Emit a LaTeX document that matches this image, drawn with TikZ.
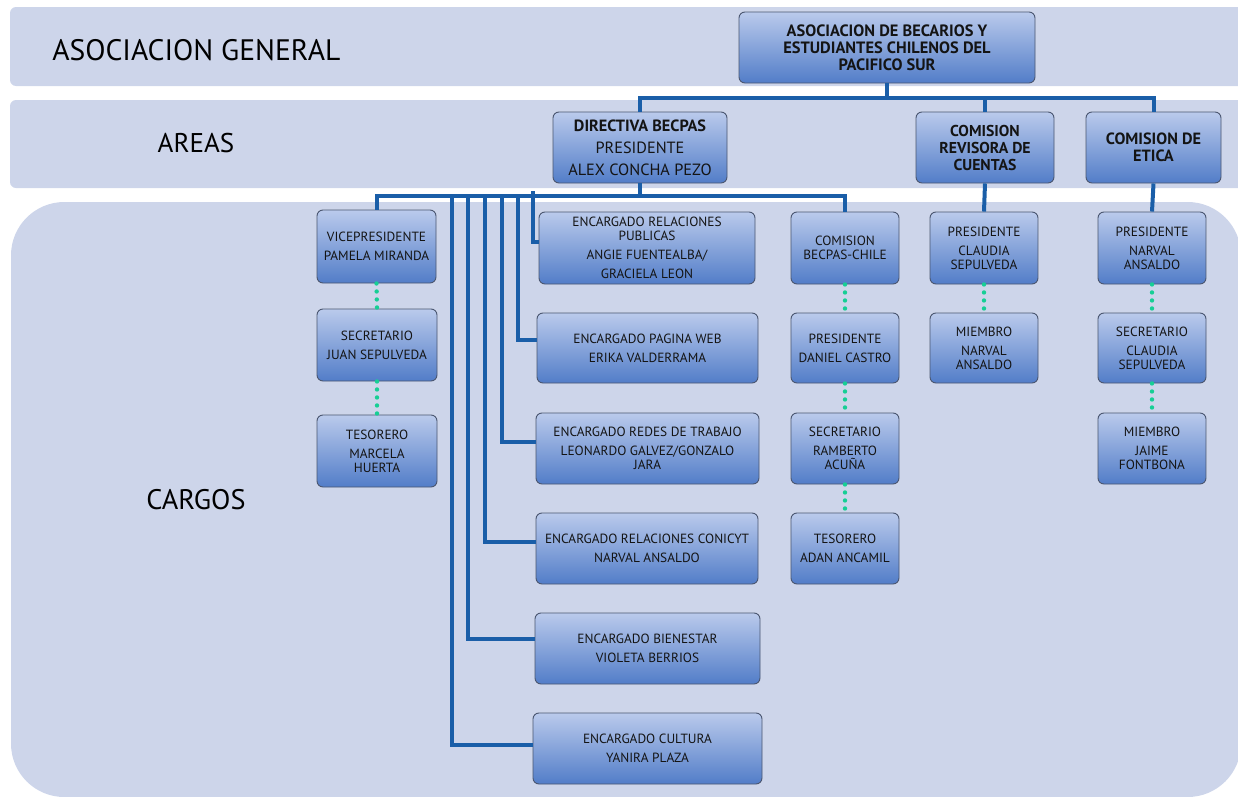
\documentclass[tikz,border=0pt]{standalone}
\usepackage{fontspec}
\setmainfont{PT Sans}
\definecolor{band}{HTML}{CDD5EA}
\definecolor{btop}{HTML}{BACAEC}
\definecolor{bbot}{HTML}{527DC8}
\definecolor{bord}{HTML}{4A5670}
\definecolor{conn}{HTML}{1A5EA8}
\definecolor{dotc}{HTML}{16CF95}
\begin{document}
\begin{tikzpicture}[x=0.75pt,y=-0.75pt,
  box/.style={draw=bord, line width=0.7pt, rounded corners=4.5pt, top color=btop, bottom color=bbot,
    align=center, inner sep=0pt, text=black!92, font=\fontsize{10}{10.5}\selectfont},
  sz/.style 2 args={minimum width={#1*0.75pt}, minimum height={#2*0.75pt}},
  big/.style={font=\bfseries\fontsize{12.3}{12.75}\selectfont},
  conn/.style={draw=conn, line width=3pt},
  dotl/.style={draw=dotc, line width=3.3pt, line cap=round, dash pattern=on 0pt off 6pt},
  lbl/.style={text=black, inner sep=0pt}]
\useasboundingbox (0,0) rectangle (1238,796);
% bands
\fill[band, rounded corners=4.5pt] (10,7) rectangle (1260,86);
\fill[band, rounded corners=4.5pt] (10,100) rectangle (1260,188);
\fill[band, rounded corners=40pt] (11,202) rectangle (1241,797);
\node[lbl, anchor=west, font=\fontsize{22.2}{26}\selectfont] (lg) at (52,50) {ASOCIACION GENERAL};
\node[lbl, font=\fontsize{20.3}{24}\selectfont] (la) at (196,143) {AREAS};
\node[lbl, font=\fontsize{21.2}{24}\selectfont] (lc) at (196,500) {CARGOS};
% top level
\node[box, big, sz={296}{71}] (top) at (887,47.5) {ASOCIACION DE BECARIOS Y\\ESTUDIANTES CHILENOS DEL\\PACIFICO SUR};
\node[box, sz={174}{71}, font=\fontsize{12.2}{12.5}\selectfont] (dir) at (640,147.5) {{\bfseries DIRECTIVA BECPAS}\\[4pt]PRESIDENTE\\[4pt]ALEX CONCHA PEZO};
\node[box, sz={138}{71}, font=\bfseries\fontsize{11.8}{12.75}\selectfont] (rev) at (985,147.5) {COMISION\\REVISORA DE\\CUENTAS};
\node[box, sz={135}{71}, font=\bfseries\fontsize{12.2}{12.75}\selectfont] (eti) at (1153.5,147.5) {COMISION DE\\ETICA};
% left column
\node[box, sz={119}{73}] (vp) at (376.5,246.5) {VICEPRESIDENTE\\[3.75pt]PAMELA MIRANDA};
\node[box, sz={120}{72}] (sec) at (377,345) {SECRETARIO\\[3.75pt]JUAN SEPULVEDA};
\node[box, sz={120}{72}] (tes) at (377,451) {TESORERO\\[3.75pt]MARCELA\\HUERTA};
% encargados
\node[box, sz={216}{72}] (rp) at (647,248) {ENCARGADO RELACIONES\\PUBLICAS\\[3.75pt]ANGIE FUENTEALBA/\\[3.75pt]GRACIELA LEON};
\node[box, sz={221}{70}] (web) at (647.5,348) {ENCARGADO PAGINA WEB\\[3.75pt]ERIKA VALDERRAMA};
\node[box, sz={223}{71}] (redes) at (647.5,448.5) {ENCARGADO REDES DE TRABAJO\\[3.75pt]LEONARDO GALVEZ/GONZALO\\JARA};
\node[box, sz={222}{71}] (coni) at (647,548.5) {ENCARGADO RELACIONES CONICYT\\[3.75pt]NARVAL ANSALDO};
\node[box, sz={225}{71}] (bien) at (647.5,648.5) {ENCARGADO BIENESTAR\\[3.75pt]VIOLETA BERRIOS};
\node[box, sz={229}{71}] (cult) at (647.5,748.5) {ENCARGADO CULTURA\\[3.75pt]YANIRA PLAZA};
% comision becpas-chile
\node[box, sz={108}{72}] (cb) at (845,248) {COMISION\\BECPAS-CHILE};
\node[box, sz={108}{70}] (cbp) at (845,348) {PRESIDENTE\\[3.75pt]DANIEL CASTRO};
\node[box, sz={108}{71}] (cbs) at (845,448.5) {SECRETARIO\\[3.75pt]RAMBERTO\\ACUÑA};
\node[box, sz={108}{71}] (cbt) at (845,548.5) {TESORERO\\[3.75pt]ADAN ANCAMIL};
% revisora
\node[box, sz={108}{72}] (rvp) at (984,248) {PRESIDENTE\\[3.75pt]CLAUDIA\\SEPULVEDA};
\node[box, sz={108}{70}] (rvm) at (984,348) {MIEMBRO\\[3.75pt]NARVAL\\ANSALDO};
% etica
\node[box, sz={108}{72}] (etp) at (1152,248) {PRESIDENTE\\[3.75pt]NARVAL\\ANSALDO};
\node[box, sz={108}{70}] (ets) at (1152,348) {SECRETARIO\\[3.75pt]CLAUDIA\\SEPULVEDA};
\node[box, sz={108}{71}] (etm) at (1152,448.5) {MIEMBRO\\[3.75pt]JAIME\\FONTBONA};
% connectors
\coordinate (bus1) at (887,98);
\coordinate (bus2) at (640,196);
\draw[conn] (top.south) -- (bus1);
\draw[conn] (bus1) -| (dir.north);
\draw[conn] (bus1) -| (rev.north);
\draw[conn] (bus1) -| (eti.north);
\draw[conn] (dir.south) -- (bus2);
\draw[conn] (bus2) -| (vp.north);
\draw[conn] (bus2) -| (cb.north);
\coordinate (v1) at (533,191);
\coordinate (v2) at (518,194);
\coordinate (v3) at (502,194);
\coordinate (v4) at (485,194);
\coordinate (v5) at (468,194);
\coordinate (v6) at (452,194);
\draw[conn] (v1) |- ([yshift=4.5pt]rp.west);
\draw[conn] (v2) |- ([yshift=6pt]web.west);
\draw[conn] (v3) |- ([yshift=4.9pt]redes.west);
\draw[conn] (v4) |- ([yshift=4.9pt]coni.west);
\draw[conn] (v5) |- ([yshift=7pt]bien.west);
\draw[conn] (v6) |- ([yshift=2.6pt]cult.west);
\draw[conn] (rev.south) -- (rvp.north);
\draw[conn] (eti.south) -- (etp.north);
% dotted
\draw[dotl] (vp.south) -- (sec.north);
\draw[dotl] (sec.south) -- (tes.north);
\draw[dotl] (cb.south) -- (cbp.north);
\draw[dotl] (cbp.south) -- (cbs.north);
\draw[dotl] (cbs.south) -- (cbt.north);
\draw[dotl] (rvp.south) -- (rvm.north);
\draw[dotl] (etp.south) -- (ets.north);
\draw[dotl] (ets.south) -- (etm.north);
\end{tikzpicture}
\end{document}
